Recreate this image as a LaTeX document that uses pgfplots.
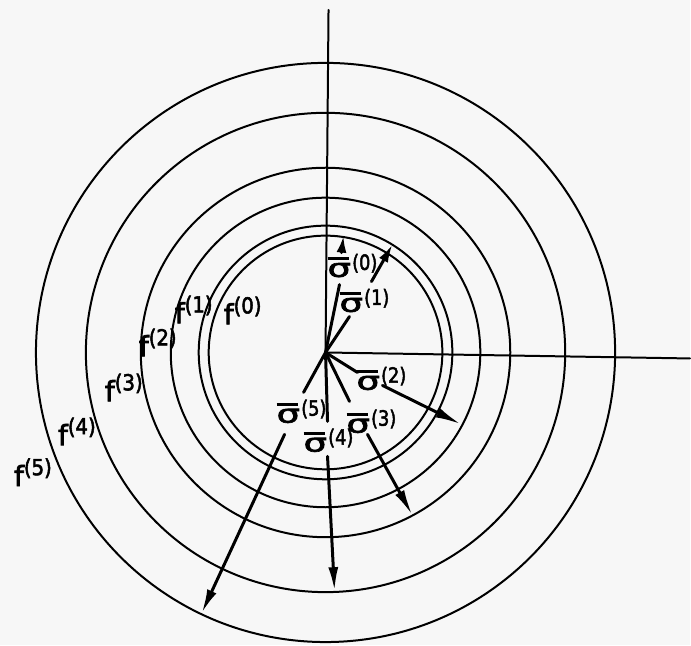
\documentclass[border=0pt]{standalone}
\usepackage{pgfplots}
\pgfplotsset{compat=1.18}
\usepackage{graphicx}
\usepackage{fontspec}
\setmainfont{DejaVu Sans}[FakeBold=2.5]
\usetikzlibrary{arrows.meta}

% barred sigma with a parenthesised superscript index
\newcommand\sigbar{\leavevmode\rlap{\raisebox{0.67em}{\rule{0.85em}{1.5pt}}}\scalebox{1.45}[1]{σ}}
\newcommand\sig[1]{{\fontsize{12.7}{12.7}\selectfont\sigbar}\kern0.6pt\raisebox{3.5pt}{\fontsize{10.5}{10.5}\selectfont\scalebox{0.85}[1]{(#1)}}}
% level-set label f^(k)
\newcommand\fl[1]{{\fontsize{14}{14}\selectfont f}\raisebox{5.5pt}{\fontsize{11}{11}\selectfont\scalebox{0.9}[1]{(#1)}}}

\begin{document}
\begin{tikzpicture}
\begin{axis}[
  x=0.5pt, y=0.5pt,
  xmin=-326, xmax=365, ymin=-293, ymax=353,
  hide axis, clip=false,
  every axis plot/.append style={black, line cap=round},
]
\fill[black!3] (rel axis cs:0,0) rectangle (rel axis cs:1,1);

% coordinate axes (upper and right half-lines)
\addplot[line width=1pt] coordinates {(0,0) (3,343)};
\addplot[line width=1pt] coordinates {(0,0) (365,-6)};

% level circles f^(0) ... f^(5)
\pgfplotsinvokeforeach{117,127,155,185,240,290}{
  \draw[line width=1pt] (axis cs:0,0) circle[radius=#1];
}

% step vectors sigma^(k): stem to the label, then arrow to circle k
\addplot[line width=1.5pt] coordinates {(0,0) (14,68)};
\addplot[line width=1.5pt, -{Latex[length=8.5pt,width=5pt]}] coordinates {(16,100) (18,117)};

\addplot[line width=1.5pt] coordinates {(0,0) (24,36)};
\addplot[line width=1.5pt, -{Latex[length=9pt,width=5pt]}] coordinates {(46,71) (67,108)};

\addplot[line width=1.5pt] coordinates {(0,0) (32,-20)};
\addplot[line width=1.5pt, -{Latex[length=13pt,width=5pt]}] coordinates {(57,-33) (136,-72)};

\addplot[line width=1.5pt] coordinates {(0,0) (24,-49)};
\addplot[line width=1.5pt, -{Latex[length=13pt,width=5pt]}] coordinates {(42,-82) (87,-163)};

\addplot[line width=1.5pt] coordinates {(0,0) (2,-69)};
\addplot[line width=1.5pt, -{Latex[length=12pt,width=5pt]}] coordinates {(2,-104) (9,-239)};

\addplot[line width=1.5pt] coordinates {(0,0) (-22,-40)};
\addplot[line width=1.5pt, -{Latex[length=12pt,width=5pt]}] coordinates {(-41,-82) (-124,-261)};

% labels
\begin{scope}[every node/.style={inner sep=0pt}]
\node at (axis cs:27,87) {\sig{0}};
\node at (axis cs:39,52) {\sig{1}};
\node at (axis cs:56,-26) {\sig{2}};
\node at (axis cs:46,-69) {\sig{3}};
\node at (axis cs:3,-88) {\sig{4}};
\node at (axis cs:-24,-59) {\sig{5}};

\node at (axis cs:-83,42) {\fl{0}};
\node at (axis cs:-132,43) {\fl{1}};
\node at (axis cs:-168,10) {\fl{2}};
\node at (axis cs:-202,-35) {\fl{3}};
\node at (axis cs:-249,-79) {\fl{4}};
\node at (axis cs:-293,-120) {\fl{5}};
\end{scope}
\end{axis}
\end{tikzpicture}
\end{document}
